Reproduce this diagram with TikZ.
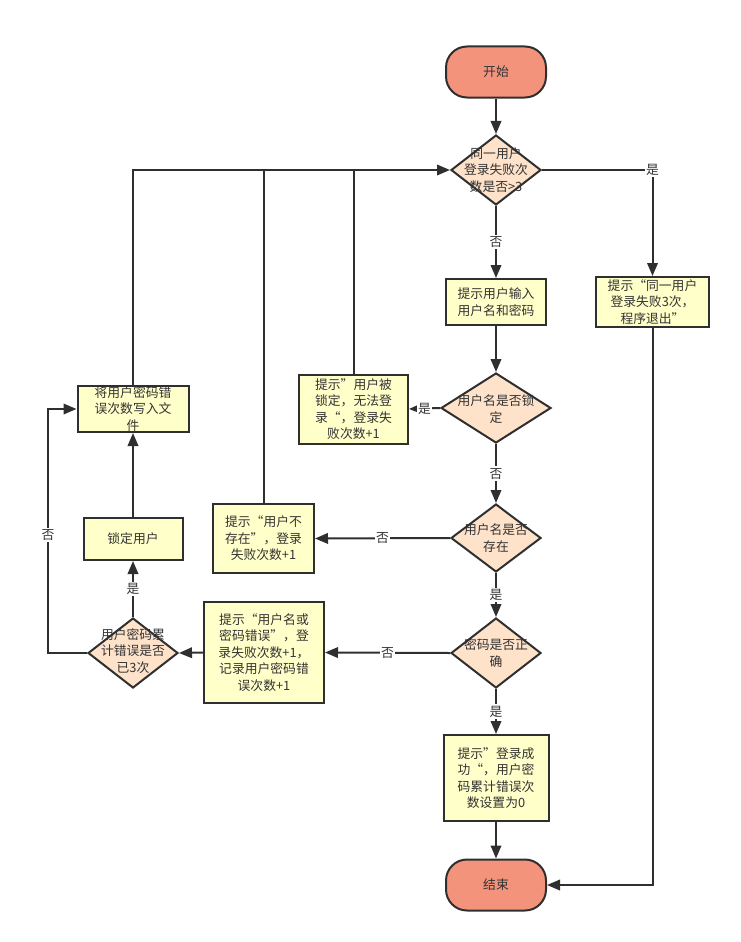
\documentclass[tikz,border=0pt]{standalone}
\usepackage{fontspec}
\setmainfont{Noto Sans CJK SC}
\usetikzlibrary{arrows.meta,shapes.geometric}
\definecolor{linec}{HTML}{2F2F2F}
\definecolor{textc}{HTML}{333333}
\definecolor{termfill}{HTML}{F4937B}
\definecolor{decfill}{HTML}{FEE2CA}
\definecolor{procfill}{HTML}{FFFFCA}
\tikzset{
  txtfont/.style={font=\fontsize{12.8}{16.5}\selectfont, text=textc},
  conn/.style={draw=linec, line width=2pt},
  arr/.style={conn, -{Triangle[length=13pt,width=10.5pt]}},
  term/.style={rectangle, rounded corners=21pt, draw=linec, line width=2pt,
    fill=termfill, minimum width=100pt, minimum height=51pt, txtfont},
  proc/.style={rectangle, draw=linec, line width=2pt, fill=procfill,
    inner sep=0pt, align=center, txtfont},
  dec/.style={diamond, draw=linec, line width=2pt, fill=decfill,
    inner sep=0pt, minimum width=90pt, minimum height=70pt},
  dectext/.style={align=center, inner sep=0pt, txtfont},
  lbl/.style={fill=white, inner sep=1.5pt, txtfont},
}
\begin{document}
\begin{tikzpicture}[x=1pt,y=-1pt]
\useasboundingbox (0,0) rectangle (741,942);

% terminals
\node[term] (start) at (496,72) {开始};
\node[term] (end) at (496,885) {结束};

% decisions
\node[dec] (d1) at (496,170) {};
\node[dectext] (d1t) at (496,170) {同一用户\\登录失败次\\数是否>3};
\node[dec, minimum width=110pt] (d2) at (496,408) {};
\node[dectext] (d2t) at (496,409) {用户名是否锁\\定};
\node[dec, minimum height=68pt] (d3) at (496,538) {};
\node[dectext] (d3t) at (496,538) {用户名是否\\存在};
\node[dec] (d4) at (496,653) {};
\node[dectext] (d4t) at (496,653) {密码是否正\\确};
\node[dec] (d5) at (133,653) {};
\node[dectext] (d5t) at (133,651) {用户密码累\\计错误是否\\已3次};

% process boxes
\node[proc, minimum width=113pt, minimum height=50pt] (exit) at (652.5,302)
  {提示“同一用户\\登录失败3次，\\程序退出”};
\node[proc, minimum width=100pt, minimum height=46pt] (input) at (496,302)
  {提示用户输入\\用户名和密码};
\node[proc, minimum width=109pt, minimum height=69pt] (lock) at (353.5,409)
  {提示”用户被\\锁定，无法登\\录“，登录失\\败次数+1};
\node[proc, minimum width=101pt, minimum height=69pt] (noex) at (263.5,538.5)
  {提示“用户不\\存在”，登录\\失败次数+1};
\node[proc, minimum width=120pt, minimum height=101pt] (wrong) at (264,652.5)
  {提示“用户名或\\密码错误”，登\\录失败次数+1，\\记录用户密码错\\误次数+1};
\node[proc, minimum width=105pt, minimum height=86pt] (succ) at (496,778)
  {提示”登录成\\功“，用户密\\码累计错误次\\数设置为0};
\node[proc, minimum width=99pt, minimum height=42pt] (lockuser) at (133,539)
  {锁定用户};
\node[proc, minimum width=111pt, minimum height=46pt] (write) at (133,409)
  {将用户密码错\\误次数写入文\\件};

% main column
\draw[arr] (start) -- (d1);
\draw[arr] (d1) -- node[lbl] {否} (input);
\draw[arr] (input) -- (d2);
\draw[arr] (d2) -- node[lbl] {否} (d3);
\draw[arr] (d3) -- node[lbl] {是} (d4);
\draw[arr] (d4) -- node[lbl] {是} (succ);
\draw[arr] (succ) -- (end);

% right branch: too many failures
\draw[arr] (d1.east) -| node[lbl, pos=0.5] {是} (exit.north);
\draw[arr] (exit.south) |- (end.east);

% left branches
\draw[arr] (d2.west) -- node[lbl] {是} (lock.east);
\draw[arr] (d3.west) -- node[lbl] {否} (noex.east);
\draw[arr] (d4.west) -- node[lbl] {否} (wrong.east);
\draw[arr] (wrong.west) -- (d5.east);
\draw[arr] (d5.north) -- node[lbl] {是} (lockuser.south);
\draw[arr] (lockuser.north) -- (write.south);
\coordinate (bend) at (48,535);
\draw[arr] (d5.west) -| (bend) |- (write.west);
\node[lbl] (nolbl) at (bend) {否};

% loop back to the first check
\draw[arr] (write.north) |- (d1.west);
\draw[conn] (lock.north) -- (lock.north |- d1.west);
\draw[conn] (noex.north) -- (noex.north |- d1.west);
\end{tikzpicture}
\end{document}
